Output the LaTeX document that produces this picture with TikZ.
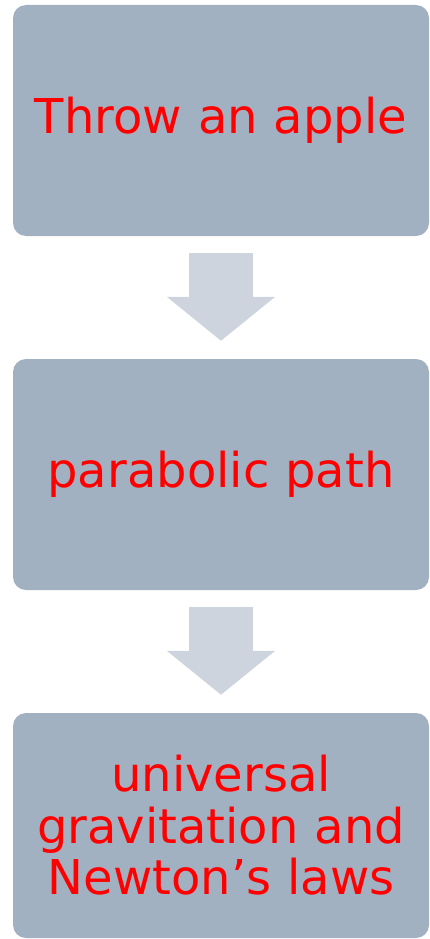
\documentclass[tikz,border=0pt]{standalone}
\usepackage{fontspec}
\setmainfont{DejaVu Sans}
\usetikzlibrary{arrows.meta, positioning}

\definecolor{boxgray}{HTML}{A2B1C1}
\definecolor{arrowgray}{HTML}{CDD4DD}

\begin{document}
\begin{tikzpicture}[
    x=1pt, y=1pt,
    stage/.style={rectangle, fill=boxgray, rounded corners=13pt, text width=400pt, align=center, minimum width=416pt, font=\fontsize{48}{51.5}\selectfont, text=red, inner sep=0pt},
    bigarrow/.style={draw=arrowgray, line width=64pt, line cap=butt, -{Triangle[length=44pt, width=106pt]}}
]

% Canvas
\useasboundingbox (0,0) rectangle (429,-939);

% Stages
\node[stage, minimum height=231pt] (throw) at (221,-120.5) {Throw an apple};
\node[stage, minimum height=231pt] (path) at (221,-474.5) {parabolic path};
\node[stage, minimum height=225pt] (laws) at (221,-825.5) {universal\\gravitation and\\Newton’s laws};

% Arrows between stages
\draw[bigarrow] ([yshift=-17pt]throw.south) -- ([yshift=18pt]path.north);
\draw[bigarrow] ([yshift=-17pt]path.south) -- ([yshift=18pt]laws.north);

\end{tikzpicture}
\end{document}
